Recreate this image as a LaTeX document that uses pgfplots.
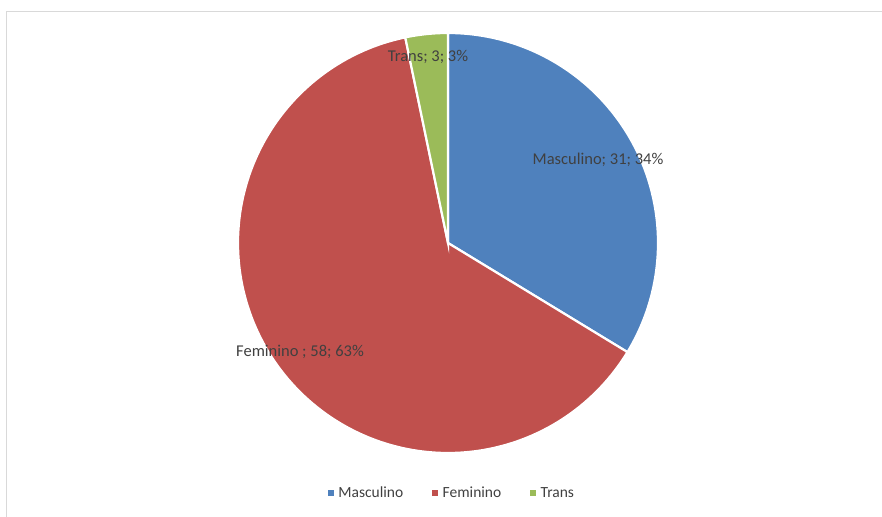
\documentclass[border=0pt]{standalone}
\usepackage{pgfplots}
\pgfplotsset{compat=1.18}
\usepackage{fontspec}
\setmainfont{Carlito}
\definecolor{cM}{HTML}{4F81BD}
\definecolor{cF}{HTML}{C0504D}
\definecolor{cT}{HTML}{9BBB59}
\definecolor{txt}{HTML}{404040}
\definecolor{frame}{HTML}{D9D9D9}
% data
\def\vM{31}\def\vF{58}\def\vT{3}
\pgfmathsetmacro{\tot}{\vM+\vF+\vT}
\pgfmathsetmacro{\aA}{90}
\pgfmathsetmacro{\aB}{90-360*(\vM/\tot)}
\pgfmathsetmacro{\aC}{\aB-360*(\vF/\tot)}
\pgfmathsetmacro{\aD}{\aC-360*(\vT/\tot)}
\def\cx{448}\def\cy{273}\def\rr{210}
\begin{document}
\begin{tikzpicture}[x=1pt,y=1pt]
\useasboundingbox (0,0) rectangle (882,516);
\begin{axis}[
  at={(0,0)}, anchor=south west,
  scale only axis, width=882pt, height=516pt,
  xmin=0, xmax=882, ymin=0, ymax=516,
  axis lines=none,
  clip=false,
  legend columns=-1,
  legend style={draw=none, fill=none, at={(axis cs:452,23)}, anchor=center,
    font=\fontsize{15.5}{17}\selectfont\color{txt},
    /tikz/every odd column/.append style={column sep=3pt},
    /tikz/every even column/.append style={column sep=27pt}},
  legend image code/.code={\fill[#1] (0pt,-2.5pt) rectangle (5pt,2.5pt);},
]
\addplot[fill=cM, draw=white, line width=2.2pt, domain=\aB:\aA, samples=90, forget plot]
  ({\cx+\rr*cos(x)},{\cy+\rr*sin(x)}) -- (axis cs:\cx,\cy) -- cycle;
\addplot[fill=cF, draw=white, line width=2.2pt, domain=\aC:\aB, samples=150, forget plot]
  ({\cx+\rr*cos(x)},{\cy+\rr*sin(x)}) -- (axis cs:\cx,\cy) -- cycle;
\addplot[fill=cT, draw=white, line width=2.2pt, domain=\aD:\aC, samples=20, forget plot]
  ({\cx+\rr*cos(x)},{\cy+\rr*sin(x)}) -- (axis cs:\cx,\cy) -- cycle;
\addlegendimage{cM}\addlegendentry{Masculino}
\addlegendimage{cF}\addlegendentry{Feminino}
\addlegendimage{cT}\addlegendentry{Trans}
\node[text=txt, font=\fontsize{16.5}{18}\selectfont] at (axis cs:598,356) {Masculino; 31; 34\%};
\node[text=txt, font=\fontsize{16.5}{18}\selectfont] at (axis cs:300,164) {Feminino ; 58; 63\%};
\node[text=txt, font=\fontsize{16.5}{18}\selectfont] at (axis cs:428,459) {Trans; 3; 3\%};
\end{axis}
\begin{scope}
\clip (0,0) rectangle (882,516);
\draw[frame, line width=1.5pt] (6.5,504.5) rectangle (900,-20);
\end{scope}
\end{tikzpicture}
\end{document}
